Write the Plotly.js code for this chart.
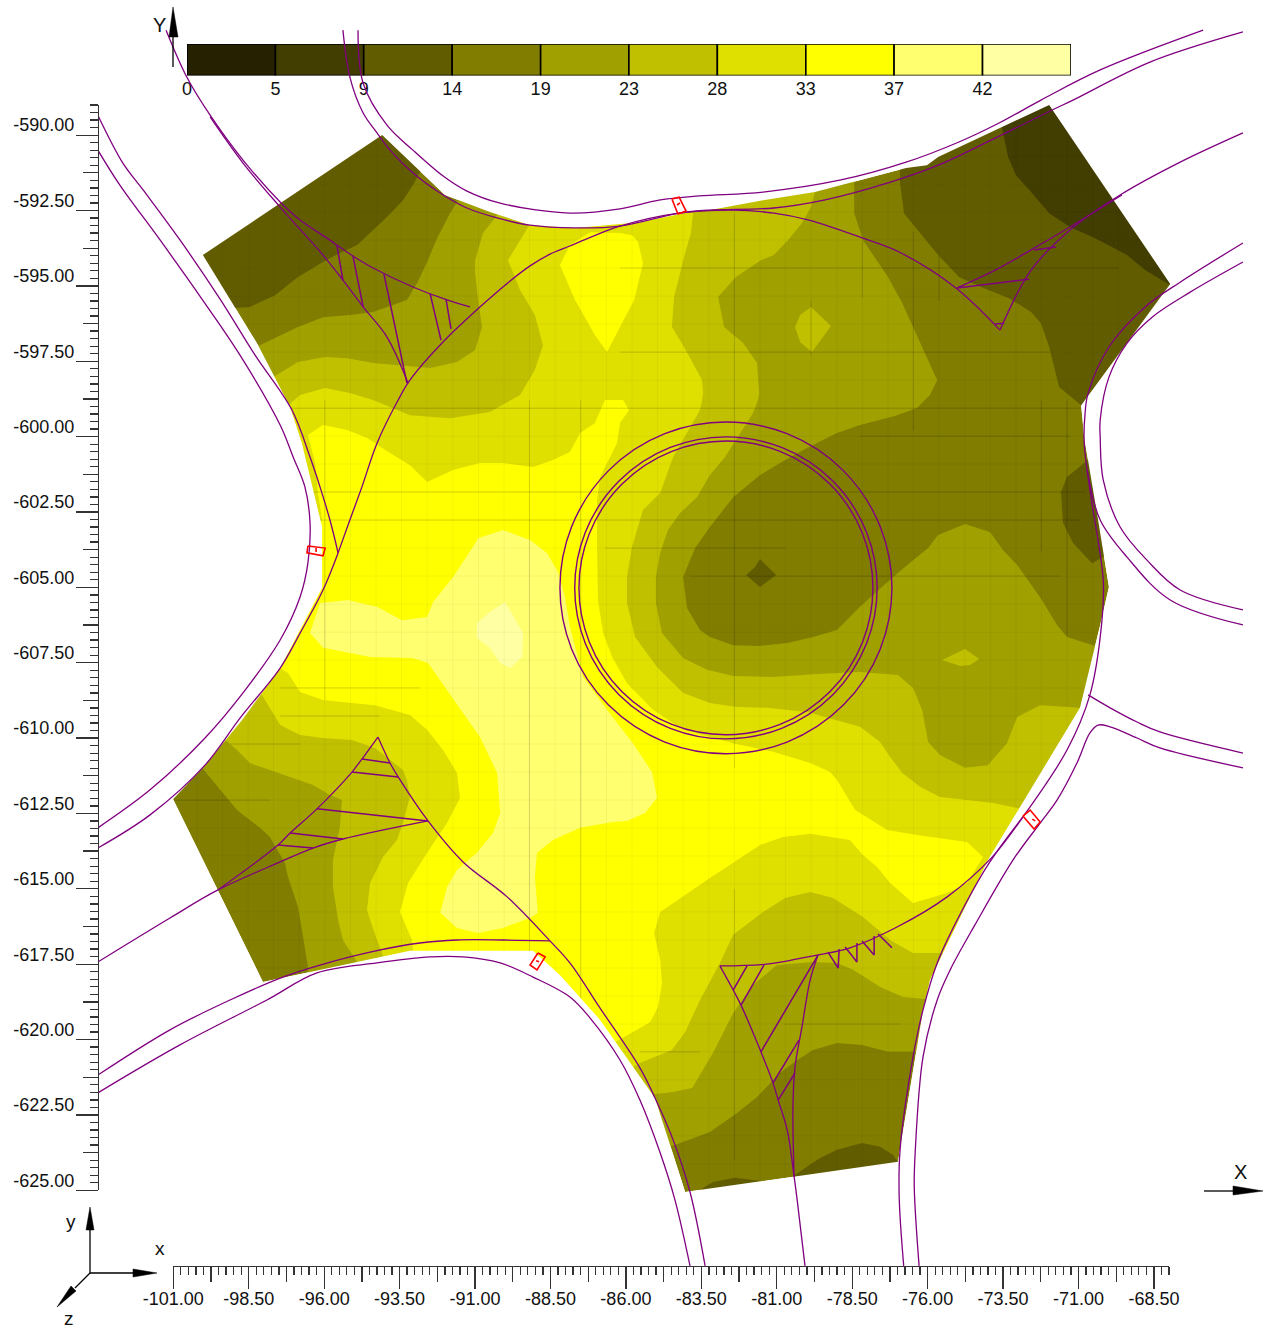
<!DOCTYPE html>
<html><head><meta charset="utf-8">
<script src="https://cdn.plot.ly/plotly-3.0.1.min.js"></script>
<style>html,body{margin:0;padding:0;background:#fff}#g{width:1268px;height:1331px}</style>
</head><body><div id="g"></div><script>
// ---------- colour scale ----------
const levels=[0,4.67,9.33,14,18.67,23.33,28,32.67,37.33,42,46.67];
const levelLabels=["0","5","9","14","19","23","28","33","37","42"];
const bandColors=["#262100","#423d00","#625c00","#807d00","#a0a000","#c0c000","#e0e000","#ffff00","#ffff70","#ffffa4"];
// ---------- measured domain outline ----------
const domain=[[-100.02,-593.98],[-94.08,-590],[-92,-591.99],[-90.51,-592.55],[-89.18,-592.99],[-87.69,-593.08],[-85.54,-592.89],[-83.88,-592.55],[-83.25,-592.49],[-81.46,-592.16],[-79.74,-591.89],[-76.72,-591.09],[-76.03,-591],[-75.66,-590.73],[-73.77,-589.83],[-71.98,-589],[-67.97,-594.94],[-70.92,-598.96],[-70.82,-600.02],[-70.63,-601.21],[-70.36,-602.77],[-70,-604.99],[-70.29,-606.25],[-70.96,-609],[-74.01,-614.05],[-75.93,-618.03],[-76.16,-619.02],[-76.36,-620.25],[-76.99,-624.06],[-84.04,-625.06],[-85.04,-621.94],[-86.86,-619.35],[-88.19,-617.86],[-89.08,-617.06],[-93.16,-617.06],[-98.03,-618.09],[-101.01,-612.02],[-100.02,-610.99],[-98.72,-609.4],[-97.46,-607.68],[-96.07,-605.02],[-96.07,-603],[-96.74,-600.22],[-97.13,-599.02],[-98.19,-596.97]];
const maskBox=[[-102,-588.7],[-102,-625.7],[-66.5,-625.7],[-66.5,-588.7],[-102,-588.7]];
// ---------- contour regions, z below 14 ----------
const low9_a=[[-92.83,-591.23],[-93.06,-591.66],[-93.39,-592.16],[-93.92,-592.72],[-94.38,-593.15],[-94.91,-593.65],[-95.48,-593.91],[-96.04,-594.21],[-96.87,-594.71],[-97.63,-595.31],[-98.46,-595.7],[-98.96,-595.74],[-100.12,-595.47],[-100.78,-593.81],[-94.15,-589.17],[-91.83,-590.17]];
const low9_b=[[-76.92,-590.5],[-76.92,-591.59],[-76.79,-592.59],[-76.13,-593.38],[-75.66,-593.98],[-74.97,-594.71],[-74.24,-595.04],[-73.31,-595.41],[-72.58,-595.87],[-72.25,-596.24],[-71.98,-597.03],[-71.65,-598.36],[-70.92,-598.96],[-70.46,-599.12],[-67.31,-594.81],[-71.62,-588.84],[-77.09,-589.83]];
const low9_c=[[-70.82,-600.88],[-71.39,-601.34],[-71.59,-601.84],[-71.52,-602.87],[-71.19,-603.53],[-70.56,-604.2],[-70.19,-604],[-69.63,-602.77],[-70.29,-600.45]];
const low9_d=[[-81.56,-604.06],[-81.03,-604.59],[-81.56,-604.99],[-82.02,-604.59],[-81.73,-604.33]];
const low9_e=[[-80.4,-624.49],[-79.57,-623.93],[-79.01,-623.66],[-78.18,-623.43],[-77.58,-623.56],[-77.15,-623.83],[-76.92,-624.16],[-76.75,-624.66],[-80.4,-625.32]];
const low9_f=[[-83.55,-624.99],[-83.12,-624.73],[-82.39,-624.59],[-81.23,-624.73],[-81.23,-625.16]];
const low5_a=[[-73.61,-589],[-73.54,-589.77],[-73.34,-590.73],[-73.08,-591.33],[-72.58,-591.89],[-71.98,-592.59],[-71.29,-593.05],[-70.46,-593.42],[-69.4,-593.98],[-68.8,-594.48],[-67.81,-595.07],[-67.31,-594.48],[-71.62,-588.84]];
// ---------- contour regions, z above 19 ----------
const above19=[[-78.44,-591.16],[-78.44,-591.59],[-78.44,-592.59],[-78.15,-593.48],[-77.32,-594.71],[-76.85,-595.57],[-76.49,-596.37],[-76.03,-597.36],[-75.69,-598.13],[-75.93,-598.62],[-76.36,-599.05],[-77.09,-599.32],[-78.25,-599.62],[-79.01,-599.88],[-80,-600.38],[-80.9,-600.88],[-81.56,-601.28],[-82.45,-602.01],[-83.22,-603],[-83.71,-603.7],[-84.11,-604.66],[-83.98,-605.69],[-83.55,-606.42],[-83.22,-606.65],[-82.45,-606.92],[-81.56,-606.95],[-80.66,-606.85],[-79.8,-606.65],[-79.01,-606.42],[-78.25,-605.65],[-77.19,-604.69],[-76.49,-604.1],[-75.99,-603.7],[-75.66,-603.27],[-74.77,-602.9],[-73.94,-603.17],[-73.51,-603.76],[-73.04,-604.26],[-72.22,-605.42],[-71.72,-606.25],[-71.39,-606.65],[-70.53,-606.92],[-69.3,-607.08],[-69.3,-620.68],[-76.49,-620.41],[-77.32,-620.41],[-78.18,-620.18],[-79.01,-620.12],[-79.8,-620.35],[-80.33,-620.68],[-80.9,-621.11],[-81.66,-621.91],[-82.32,-622.44],[-83.22,-623.07],[-84.38,-623.5],[-85.54,-623.83],[-93.49,-620.02],[-96.47,-618.69],[-96.54,-617.6],[-96.7,-616.6],[-96.87,-615.6],[-97.2,-614.61],[-97.3,-614.15],[-97.8,-613.28],[-98.13,-612.98],[-98.89,-612.39],[-99.45,-611.72],[-100.05,-610.99],[-101.44,-610.07],[-99.12,-597.46],[-98.19,-597],[-97.56,-596.7],[-96.87,-596.37],[-96.04,-596.04],[-95.15,-595.97],[-94.38,-595.87],[-93.72,-595.64],[-93.26,-595.47],[-92.92,-594.91],[-92.59,-594.21],[-92.26,-593.42],[-91.83,-592.59],[-91.6,-592.22],[-91.33,-591.16]];
const above23=[[-79.74,-591.33],[-79.74,-591.89],[-79.87,-592.39],[-80.17,-592.92],[-80.63,-593.48],[-81.1,-593.98],[-81.53,-594.15],[-82.36,-594.71],[-82.95,-595.37],[-82.75,-596.37],[-82.12,-596.9],[-81.66,-597.56],[-81.59,-598.56],[-81.63,-598.79],[-81.79,-599.22],[-82.22,-599.88],[-82.72,-600.68],[-83.22,-601.28],[-83.65,-602.01],[-84.21,-602.54],[-84.61,-603.1],[-84.87,-603.86],[-85.01,-604.66],[-85.01,-605.52],[-84.81,-606.52],[-84.11,-607.35],[-83.32,-607.74],[-82.45,-607.94],[-81.13,-607.98],[-79.67,-607.88],[-78.25,-607.81],[-76.99,-607.91],[-76.49,-608.34],[-76.19,-609.07],[-75.99,-610.13],[-75.6,-610.56],[-74.77,-610.99],[-74.01,-610.9],[-73.38,-610.17],[-73.04,-609.3],[-72.28,-608.91],[-70.96,-609],[-69.96,-609.14],[-72.94,-618.69],[-76.09,-618.66],[-76.82,-618.59],[-77.58,-618.26],[-78.48,-617.69],[-79.01,-617.46],[-79.8,-617.43],[-81,-617.53],[-81.79,-618.19],[-82.45,-619.12],[-83.12,-620.45],[-83.81,-621.61],[-84.44,-621.74],[-85.01,-621.81],[-85.87,-621.84],[-90.17,-618.36],[-93.49,-617.86],[-94.81,-617.86],[-94.91,-617.43],[-95.38,-616.7],[-95.54,-616.04],[-95.71,-614.94],[-95.71,-614.05],[-95.48,-612.95],[-95.41,-612.06],[-95.81,-611.89],[-96.37,-611.56],[-97.13,-611.29],[-98.46,-610.83],[-98.89,-610.4],[-99.35,-610],[-100.12,-609.4],[-98.79,-598.46],[-97.63,-597.99],[-96.87,-597.53],[-95.97,-597.36],[-95.24,-597.4],[-94.38,-597.56],[-93.49,-597.63],[-92.49,-597.73],[-91.6,-597.53],[-91,-597.13],[-90.77,-596.37],[-90.9,-595.47],[-91,-594.58],[-91,-594.15],[-90.74,-593.25],[-90.27,-592.65],[-90.01,-591.82]];
const above23_b=[[-79.87,-595.7],[-79.21,-596.33],[-79.84,-597.2],[-80.23,-596.87],[-80.4,-596.37],[-80.23,-595.97]];
const above23_c=[[-75.53,-607.41],[-74.77,-607.05],[-74.3,-607.38],[-74.6,-607.58],[-74.93,-607.61]];
const above28=[[-83.65,-591.99],[-83.78,-592.59],[-83.85,-593.25],[-84.08,-594.05],[-84.41,-595.37],[-84.48,-596.37],[-84.08,-597.03],[-83.48,-598.13],[-83.45,-598.56],[-83.48,-598.79],[-83.55,-599.12],[-83.98,-599.88],[-84.44,-600.68],[-84.87,-601.87],[-85.44,-602.44],[-85.8,-603.66],[-85.97,-604.66],[-85.97,-605.52],[-85.7,-606.65],[-84.97,-607.65],[-84.11,-608.51],[-83.22,-608.84],[-82.32,-608.97],[-81.33,-609],[-80,-609.14],[-78.25,-609.63],[-77.58,-610.13],[-77.25,-610.63],[-76.85,-611.16],[-76.26,-611.62],[-75.6,-611.96],[-74.7,-612.06],[-73.84,-612.16],[-73.04,-612.32],[-72.28,-612.55],[-73.94,-617.3],[-75.53,-617.13],[-76.49,-617.13],[-77.25,-616.7],[-78.15,-615.94],[-79.14,-615.31],[-79.9,-615.11],[-80.73,-615.31],[-81.46,-615.77],[-82.45,-616.53],[-82.89,-617.46],[-83.55,-618.69],[-84.04,-619.75],[-84.48,-620.35],[-85.54,-620.78],[-86.2,-621.18],[-90.17,-618.19],[-93.49,-617.86],[-93.99,-617.36],[-94.25,-616.7],[-94.48,-616.04],[-94.58,-615.7],[-94.48,-614.81],[-94.05,-613.95],[-93.59,-613.38],[-93.39,-612.82],[-93.16,-611.96],[-93.26,-611.39],[-93.39,-611.06],[-94.32,-610.33],[-95.08,-610.07],[-96.04,-610],[-96.8,-609.9],[-97.46,-609.57],[-98.06,-608.57],[-98.79,-608.08],[-98.13,-599.78],[-97.07,-598.86],[-96.8,-598.62],[-95.97,-598.39],[-95.15,-598.56],[-94.38,-598.79],[-93.82,-599.02],[-93.16,-599.29],[-91.83,-599.39],[-90.51,-599.19],[-89.51,-598.62],[-89.02,-597.79],[-88.75,-596.97],[-89.02,-595.97],[-89.51,-595.14],[-89.91,-594.15],[-89.18,-592.95],[-89.02,-592.16]];
const above33_a=[[-87.19,-593.22],[-86.2,-593.25],[-85.8,-593.32],[-85.6,-593.55],[-85.44,-594.25],[-85.73,-595.47],[-86.2,-596.37],[-86.63,-597.2],[-87.03,-596.63],[-87.69,-595.47],[-88.19,-594.31],[-87.86,-593.65]];
const above33=[[-96.54,-599.95],[-96.04,-599.62],[-95.24,-599.78],[-94.58,-600.05],[-93.82,-600.55],[-93.16,-600.95],[-92.59,-601.51],[-91.73,-601.11],[-90.84,-600.88],[-90.08,-600.88],[-89.08,-601.01],[-88.42,-600.78],[-87.86,-600.51],[-87.52,-599.88],[-87.03,-599.55],[-86.7,-598.79],[-86.1,-598.79],[-85.9,-599.12],[-86.2,-599.55],[-86.3,-600.22],[-86.86,-601.34],[-86.96,-602.11],[-86.96,-603.76],[-86.93,-605.42],[-86.76,-606.52],[-86.46,-607.31],[-85.97,-608.18],[-85.1,-609.07],[-84.11,-609.73],[-82.45,-610.17],[-81.13,-610.46],[-79.9,-610.83],[-79.24,-611.13],[-79.01,-611.39],[-78.41,-612.39],[-77.35,-613.05],[-76.36,-613.22],[-74.7,-613.45],[-74.17,-613.95],[-74.7,-614.81],[-75.36,-615.14],[-76.49,-615.47],[-77.25,-614.81],[-77.68,-614.28],[-78.15,-613.88],[-78.58,-613.38],[-79.9,-613.18],[-80.8,-613.28],[-81.56,-613.55],[-83.32,-614.71],[-84.87,-615.77],[-85.07,-616.47],[-84.87,-617.36],[-84.81,-618.13],[-84.94,-618.92],[-85.2,-619.42],[-85.54,-619.62],[-86.53,-620.18],[-90.17,-618.19],[-92.83,-617.86],[-93.02,-617.36],[-93.09,-616.7],[-93.49,-615.77],[-93.22,-614.81],[-92.59,-613.81],[-91.93,-612.82],[-91.5,-611.99],[-91.6,-611.16],[-92.06,-610.4],[-92.59,-609.73],[-93.16,-609.24],[-94.32,-608.91],[-95.08,-608.84],[-96.04,-608.74],[-96.8,-608.47],[-97.2,-607.84],[-97.63,-607.58],[-97.8,-605.42],[-96.07,-602.77],[-96.21,-601.87],[-96.3,-600.88]];
const above37=[[-90.9,-603.37],[-90.08,-603.1],[-89.18,-603.43],[-88.62,-603.86],[-88.25,-604.49],[-88.02,-605.32],[-87.86,-606.32],[-87.42,-607.98],[-86.63,-609.07],[-85.77,-610.17],[-85.14,-611.13],[-84.97,-611.99],[-85.37,-612.49],[-85.97,-612.75],[-86.43,-612.79],[-87.52,-612.98],[-88.42,-613.38],[-88.95,-613.81],[-89.02,-614.61],[-88.92,-615.8],[-89.18,-615.97],[-90.08,-616.3],[-90.9,-616.47],[-91.6,-616.3],[-92.16,-615.8],[-91.93,-614.94],[-91.6,-614.38],[-90.94,-613.81],[-90.41,-613.15],[-90.17,-612.49],[-90.27,-611.16],[-90.84,-609.97],[-91.4,-609.17],[-91.93,-608.41],[-92.56,-607.51],[-93.09,-607.35],[-94.48,-607.31],[-95.15,-607.18],[-96.04,-607.01],[-96.47,-606.52],[-96.14,-605.52],[-95.21,-605.42],[-94.25,-605.65],[-93.42,-606.09],[-92.59,-605.99],[-92.39,-605.49],[-91.73,-604.66],[-91.07,-603.66]];
const above42=[[-90.01,-605.49],[-89.41,-606.52],[-89.44,-607.31],[-89.84,-607.68],[-90.17,-607.51],[-90.51,-607.01],[-90.94,-606.68],[-90.94,-606.19],[-90.51,-605.82]];
// ---------- mesh line positions ----------
const gridX=[-100.22,-99.37,-98.52,-97.68,-96.83,-95.98,-95.13,-94.28,-93.44,-92.59,-91.74,-90.89,-90.04,-89.2,-88.35,-87.5,-86.65,-85.8,-84.96,-84.11,-83.26,-82.41,-81.56,-80.72,-79.87,-79.02,-78.17,-77.32,-76.48,-75.63,-74.78,-73.93,-73.08,-72.24,-71.39,-70.54,-69.69];
const gridY=[-590.7,-591.63,-592.55,-593.48,-594.41,-595.34,-596.27,-597.2,-598.13,-599.06,-599.99,-600.91,-601.84,-602.77,-603.7,-604.63,-605.56,-606.49,-607.41,-608.34,-609.27,-610.2,-611.13,-612.06,-612.99,-613.91,-614.84,-615.77,-616.7,-617.63,-618.56,-619.49,-620.41,-621.34,-622.27,-623.2,-624.13];
const meshRuns=[
 [[-97.13,-601.84],[-70.79,-601.84]],[[-96.14,-602.77],[-70.96,-602.77]],[[-97.13,-599.06],[-70.96,-599.06]],[[-86.2,-597.2],[-71.95,-597.2]],[[-86.2,-594.41],[-69.69,-594.41]],[[-83.88,-604.63],[-71.62,-604.63]],[[-78.25,-599.99],[-71.29,-599.99]],[[-80.73,-619.49],[-76.92,-619.49]],[[-85.54,-620.41],[-83.55,-620.41]],[[-86.7,-603.7],[-80.72,-603.7]],[[-99.12,-610.2],[-96.8,-610.2]],[[-101.1,-612.06],[-97.8,-612.06]],[[-97.46,-609.27],[-94.16,-609.27]],[[-97.46,-608.34],[-92.83,-608.34]],
 [[-95.98,-598.79],[-95.98,-608.74]],[[-89.2,-598.79],[-89.2,-618]],[[-87.5,-598.79],[-87.5,-619.5]],[[-82.41,-592.6],[-82.41,-611]],[[-82.41,-615],[-82.41,-624]],[[-79.87,-595.5],[-79.87,-597.3]],[[-78.17,-593.5],[-78.17,-595.4]],[[-76.48,-593.2],[-76.48,-599.8]],[[-75.63,-594],[-75.63,-595.5]],[[-72.24,-598.8],[-72.24,-603.8]],[[-71.39,-598.8],[-71.39,-606.6]]];
// ---------- road centre lines ----------
const roadA=[[-103.5,-589.34],[-102.67,-590.93],[-102,-591.82],[-100.78,-593.48],[-99.45,-595.44],[-98.29,-597.3],[-97.07,-599.12],[-96.47,-600.68],[-96.14,-601.67],[-95.81,-602.77],[-95.54,-603.86]];
const roadB=[[-103.5,-590.5],[-102.77,-591.66],[-101.44,-593.48],[-100.05,-595.44],[-98.79,-597.3],[-97.46,-599.62],[-97.03,-600.68],[-96.64,-601.67],[-96.47,-602.87],[-96.54,-604.2],[-96.8,-605.32],[-97.46,-606.75],[-98.62,-608.41],[-99.95,-610],[-101.77,-611.72],[-103.5,-612.98]];
const roadC=[[-95.54,-603.86],[-96.04,-605.09],[-96.8,-606.52],[-97.46,-607.68],[-98.79,-609.34],[-99.95,-610.9],[-101.77,-612.55],[-103.5,-613.65]];
const roadD=[[-95.54,-603.86],[-95.15,-602.77],[-94.75,-601.67],[-94.25,-600.22],[-93.55,-598.79],[-93.16,-598.13],[-92,-596.8],[-90.51,-595.41],[-89.84,-594.84],[-89.18,-594.34],[-88.52,-593.95],[-87.86,-593.68],[-86.2,-593.02],[-84.24,-592.59],[-82.42,-592.49],[-81.1,-592.59],[-79.94,-592.82],[-78.15,-593.42],[-76.95,-593.88],[-75.07,-595.07],[-73.61,-596.47]];
const roadE=[[-95.38,-586.52],[-95.15,-588.08],[-94.71,-589.27],[-94.25,-589.93],[-93.82,-590.5],[-93.06,-591.26],[-92.16,-591.92],[-91.27,-592.42],[-90.27,-592.75],[-89.18,-592.99],[-87.69,-593.08],[-86.2,-593.02],[-84.24,-592.59],[-83.25,-592.49],[-81.1,-592.42],[-79.44,-592.16],[-77.32,-591.59],[-75.66,-591],[-73.77,-590.1],[-71.88,-589.17],[-71.19,-588.84],[-68.64,-587.58],[-65.56,-586.58]];
const roadF=[[-94.88,-586.52],[-94.71,-588.28],[-93.92,-589.67],[-93.06,-590.5],[-92.06,-591.36],[-91.27,-591.86],[-90.17,-592.26],[-87.86,-592.59],[-86.2,-592.45],[-84.91,-592.16],[-83.58,-592.02],[-81.46,-591.89],[-78.88,-591.49],[-76.72,-590.9],[-74.97,-590.23],[-73.64,-589.6],[-72.25,-588.84],[-70.29,-587.84],[-66.88,-586.52]];
const roadG=[[-101.24,-586.52],[-100.55,-588.08],[-99.78,-589.34],[-98.69,-590.83],[-97.46,-592.22],[-96.8,-592.82],[-95.91,-593.42],[-95.05,-594.01],[-94.38,-594.41],[-93.06,-595.04],[-91.93,-595.47],[-91.17,-595.7]];
const roadH=[[-99.78,-589.4],[-98.69,-590.93],[-97.46,-592.39],[-96.04,-593.98],[-95.38,-594.81],[-94.71,-595.7],[-93.92,-596.7],[-93.22,-598.23]];
const roadI=[[-65.56,-589.93],[-67.64,-590.9],[-69.63,-591.99],[-71.29,-593.15],[-72.58,-594.48],[-73.61,-596.47]];
const roadJ=[[-75.03,-595.07],[-73.77,-594.48],[-72.58,-593.81],[-71.29,-593.05],[-69.57,-591.99]];
const roadK=[[-94.22,-609.97],[-94.75,-610.7],[-95.08,-611.13],[-96.24,-612.35],[-97.13,-613.15],[-97.53,-613.55],[-99.52,-615.04]];
const roadL=[[-94.22,-609.97],[-93.82,-610.83],[-93.55,-611.29],[-92.56,-612.75],[-91.4,-614.11],[-89.94,-615.27],[-88.52,-616.73],[-87.86,-617.46],[-86.86,-618.96],[-85.54,-620.94],[-85.04,-621.94],[-84.44,-623.33],[-83.88,-625.06],[-83.38,-627.51]];
const roadM=[[-92.56,-612.75],[-95.38,-613.35],[-96.37,-613.65],[-97.46,-614.11],[-99.52,-615.04],[-101.11,-615.97],[-103.5,-617.43]];
const roadN=[[-103.5,-621.18],[-101.11,-619.68],[-99.12,-618.69],[-97.37,-617.93],[-96.14,-617.53],[-94.48,-617.1],[-92.83,-616.8],[-91.6,-616.7],[-90.08,-616.7],[-88.52,-616.73]];
const roadO=[[-103.5,-621.77],[-100.78,-620.18],[-97.9,-618.69],[-96.24,-617.79],[-94.25,-617.46],[-92.49,-617.26],[-91.4,-617.26],[-90.17,-617.46],[-89.08,-617.93],[-87.86,-618.59],[-87.19,-619.29],[-86.2,-620.68],[-85.54,-622.01],[-84.87,-623.76],[-84.38,-625.32],[-83.88,-627.51]];
const roadP=[[-82.89,-617.56],[-81.33,-617.5],[-79.67,-617.2],[-78.58,-616.96],[-77.02,-616.27],[-75.36,-615.27],[-73.87,-613.95],[-72.85,-612.62],[-71.39,-610.4],[-70.63,-608.57],[-70.23,-606.09],[-70.19,-604.76],[-70.63,-601.77],[-70.82,-600.22],[-70.79,-599.22],[-70.69,-598.56],[-70,-597.03],[-68.8,-595.7],[-67.64,-594.88],[-65.56,-593.58]];
const roadQ=[[-65.56,-594.21],[-67.31,-595.21],[-68.57,-596.04],[-69.4,-596.9],[-70,-598.03],[-70.29,-599.45],[-70.29,-600.02],[-70.19,-601.44],[-69.63,-603],[-68.74,-604.1],[-67.64,-605.09],[-65.56,-605.75]];
const roadR=[[-70.72,-601.11],[-70.29,-602.77],[-69.4,-604],[-67.97,-605.42],[-65.56,-606.25]];
const roadS=[[-70.69,-608.57],[-69.96,-609],[-69.07,-609.47],[-68.31,-609.8],[-65.56,-610.5]];
const roadT=[[-65.56,-610.99],[-68.31,-610.33],[-69.07,-610],[-69.96,-609.63],[-70.36,-609.57],[-70.63,-609.83],[-71.06,-610.83],[-71.72,-612.06],[-72.28,-612.82],[-73.18,-614.05],[-74.44,-616.2],[-75.26,-617.69],[-75.69,-618.69],[-76.16,-620.58],[-76.42,-623.76],[-76.45,-624.89],[-76.29,-627.51]];
const roadU=[[-72.85,-612.62],[-74.01,-614.21],[-75.03,-616.04],[-75.69,-617.46],[-76.16,-619.02],[-76.49,-620.58],[-76.92,-623.66],[-76.95,-625.22],[-76.8,-627.51]];
const roadV=[[-82.89,-617.56],[-82.45,-618.36],[-82.19,-618.86],[-81.53,-620.41],[-81.13,-621.44],[-80.96,-622.01],[-80.66,-623],[-80.43,-624.56],[-80.33,-625.32],[-80.07,-627.51]];
const roadW=[[-79.64,-617.2],[-79.9,-618.03],[-80.17,-619.58],[-80.4,-620.91],[-80.47,-622.24],[-80.43,-624.56]];
// ---------- straight connector strokes ----------
const strokes=[
 [[-95.58,-593.65],[-95.38,-594.81]],[[-95.05,-594.01],[-94.71,-595.7]],[[-94.02,-594.61],[-93.26,-598.23]],[[-92.49,-595.27],[-92.13,-596.8]],[[-91.96,-595.47],[-91.8,-596.43]],
 [[-75.03,-595.07],[-72.65,-594.78]],[[-72.48,-593.81],[-71.75,-593.71]],[[-73.77,-596.27],[-73.47,-596.24]],
 [[-94.75,-610.7],[-93.82,-610.83]],[[-95.08,-611.13],[-93.55,-611.29]],[[-96.24,-612.35],[-92.56,-612.75]],[[-97.13,-613.15],[-95.38,-613.35]],[[-97.53,-613.55],[-96.37,-613.65]],
 [[-81.99,-617.56],[-82.45,-618.36]],[[-81.43,-617.53],[-82.19,-618.86]],[[-79.64,-617.2],[-81.53,-620.41]],[[-80.27,-620.02],[-81.13,-621.44]],[[-80.4,-621.11],[-80.96,-622.01]],
 [[-79.31,-617.1],[-78.97,-617.63],[-78.94,-617]],[[-78.74,-616.93],[-78.35,-617.43],[-78.35,-616.8]],[[-78.18,-616.73],[-77.78,-617.2],[-77.78,-616.57]],[[-77.65,-616.5],[-77.19,-616.96]]];
// ---------- inspection boxes ----------
const boxes=[
 [[-84.48,-592.12],[-84.24,-592.06],[-84.01,-592.52],[-84.28,-592.62],[-84.48,-592.12]],[[-84.31,-592.32],[-84.21,-592.25]],
 [[-96.54,-603.63],[-95.97,-603.7],[-96.04,-603.96],[-96.57,-603.86],[-96.54,-603.63]],[[-96.27,-603.7],[-96.27,-603.83]],
 [[-72.85,-612.59],[-72.61,-612.39],[-72.28,-612.79],[-72.48,-613.02],[-72.85,-612.59]],[[-72.54,-612.69],[-72.44,-612.75]],
 [[-88.92,-617.13],[-88.68,-617.26],[-88.95,-617.69],[-89.18,-617.53],[-88.92,-617.13]],[[-88.98,-617.39],[-88.88,-617.42]]];
// ---------- central rings ----------
const ringCentre=[-82.69,-605.02];
const ringRadii=[5.5,5.01,4.87];
// ---------- axis tick values ----------
const xTicks=[-101,-98.5,-96,-93.5,-91,-88.5,-86,-83.5,-81,-78.5,-76,-73.5,-71,-68.5];
const yTicks=[-590,-592.5,-595,-597.5,-600,-602.5,-605,-607.5,-610,-612.5,-615,-617.5,-620,-622.5,-625];

const W=1268,H=1331;
const fx=p=>p/W, fy=p=>1-p/H;
const split=(polys)=>{const x=[],y=[];polys.forEach((pl,i)=>{if(i){x.push(null);y.push(null)}pl.forEach(p=>{x.push(p[0]);y.push(p[1])})});return{x,y}};
const region=(polys,color)=>Object.assign({type:'scatter',mode:'lines',xaxis:'x2',yaxis:'y2',fill:'toself',fillcolor:color,line:{width:0},hoverinfo:'skip'},split(polys));
const stroke=(polys,color,w,shape)=>Object.assign({type:'scatter',mode:'lines',xaxis:'x2',yaxis:'y2',line:{color:color,width:w,shape:shape||'linear',smoothing:1},hoverinfo:'skip'},split(polys));

const traces=[];
// colour bar
traces.push({type:'bar',orientation:'h',xaxis:'x',yaxis:'y',y:levelLabels.map(()=>0),x:levelLabels.map((_,i)=>levels[i+1]-levels[i]),base:levels.slice(0,10),width:1,
  marker:{color:bandColors,line:{color:'#000',width:1.6}},hoverinfo:'skip'});
// contour map
traces.push(region([domain],bandColors[3]));
traces.push(region([low9_a,low9_b,low9_c,low9_d,low9_e,low9_f],bandColors[2]));
traces.push(region([low5_a],bandColors[1]));
traces.push(region([above19],bandColors[4]));
traces.push(region([above23],bandColors[5]));
traces.push(region([above23_b,above23_c],bandColors[5]));
traces.push(region([above28],bandColors[6]));
traces.push(region([above33,above33_a],bandColors[7]));
traces.push(region([above37],bandColors[8]));
traces.push(region([above42],bandColors[9]));
// mesh
const meshSegs=[];
gridX.forEach(v=>meshSegs.push([[v,-589],[v,-625.6]]));
gridY.forEach(v=>meshSegs.push([[-101.5,v],[-67,v]]));
traces.push(stroke(meshSegs,'rgba(0,0,0,0.045)',1));
traces.push(stroke(meshRuns,'rgba(0,0,0,0.14)',1));
// white mask outside the measured domain
traces.push(region([maskBox.concat(domain,[domain[0]],[maskBox[0]])],'#ffffff'));
// roads
[roadA,roadB,roadC,roadD,roadE,roadF,roadG,roadH,roadI,roadJ,roadK,roadL,roadM,roadN,roadO,roadP,roadQ,roadR,roadS,roadT,roadU,roadV,roadW]
  .forEach(r=>traces.push(stroke([r],'#800080',1.3,'spline')));
traces.push(stroke(strokes,'#800080',1.5));
traces.push(stroke(boxes,'#ff0000',1.6));
// carriers for the tick axes
traces.push({type:'scatter',mode:'none',x:[-101,-68],y:[-625,-589],xaxis:'x3',yaxis:'y3',hoverinfo:'skip'});
traces.push({type:'scatter',mode:'none',x:[-101,-68],y:[-625,-589],xaxis:'x4',yaxis:'y4',hoverinfo:'skip'});

const axisInk='#333';
const tickFont={family:'"Liberation Sans",Arial,sans-serif',size:18,color:'#111'};
const hidden={visible:false,showgrid:false,zeroline:false};
const xDom=[fx(173.3),fx(1169)], yDom=[fy(1190.3),fy(105)];
const layout={width:W,height:H,autosize:false,margin:{l:0,r:0,t:0,b:0,pad:0},paper_bgcolor:'#fff',plot_bgcolor:'rgba(0,0,0,0)',showlegend:false,barmode:'overlay',
 xaxis:{domain:[fx(187),fx(1071)],range:[0,46.67],anchor:'y',tickmode:'array',tickvals:levels.slice(0,10),ticktext:levelLabels,ticks:'',showgrid:false,zeroline:false,showline:false,tickfont:tickFont,tickangle:0},
 yaxis:Object.assign({domain:[fy(75.5),fy(44)],range:[-0.5,0.5],anchor:'x'},hidden),
 xaxis2:Object.assign({domain:[fx(98),1],range:[-103.495,-64.73],anchor:'y2'},hidden),
 yaxis2:Object.assign({domain:[0,1],range:[-629.67,-585.52],anchor:'x2'},hidden),
 xaxis3:{domain:xDom,range:[-101,-68],anchor:'free',position:fy(1266),side:'bottom',showline:true,linecolor:axisInk,linewidth:1.3,ticks:'outside',ticklen:22,tickwidth:1.3,tickcolor:axisInk,showgrid:false,zeroline:false,tickmode:'array',tickvals:xTicks,ticktext:xTicks.map(v=>v.toFixed(2)),tickfont:tickFont,tickangle:0,ticklabelstandoff:-6,
   minor:{ticks:'outside',ticklen:8,tickwidth:1.3,tickcolor:axisInk,tick0:-101,dtick:0.25,showgrid:false}},
 yaxis3:{domain:yDom,range:[-625,-589],anchor:'free',position:fx(98),side:'left',showline:true,linecolor:axisInk,linewidth:1.3,ticks:'outside',ticklen:22,tickwidth:1.3,tickcolor:axisInk,showgrid:false,zeroline:false,tickmode:'array',tickvals:yTicks,ticktext:yTicks.map(v=>v.toFixed(2)),tickfont:tickFont,ticklabelshift:-10,ticklabelstandoff:-2,
   minor:{ticks:'outside',ticklen:8,tickwidth:1.3,tickcolor:axisInk,tick0:-625,dtick:0.25,showgrid:false}},
 xaxis4:{domain:xDom,range:[-101,-68],anchor:'free',position:fy(1266),side:'bottom',ticks:'outside',ticklen:15,tickwidth:1.3,tickcolor:axisInk,tick0:-101,dtick:1.25,showticklabels:false,showgrid:false,zeroline:false,showline:false},
 yaxis4:{domain:yDom,range:[-625,-589],anchor:'free',position:fx(98),side:'left',ticks:'outside',ticklen:15,tickwidth:1.3,tickcolor:axisInk,tick0:-625,dtick:1.25,showticklabels:false,showgrid:false,zeroline:false,showline:false},
 shapes:[],annotations:[]};
// central rings, in data units
ringRadii.forEach(r=>layout.shapes.push({type:'circle',xref:'x2',yref:'y2',x0:ringCentre[0]-r,x1:ringCentre[0]+r,y0:ringCentre[1]-r,y1:ringCentre[1]+r,line:{color:'#800080',width:1.4},layer:'above'}));
// orientation arrows (page furniture)
const P=(a,b)=>fx(a)+' '+fy(b);
const paperLine=(a,b,c,d)=>({type:'line',xref:'paper',yref:'paper',x0:fx(a),y0:fy(b),x1:fx(c),y1:fy(d),line:{color:'#000',width:1.3}});
const paperHead=(pts)=>({type:'path',xref:'paper',yref:'paper',path:'M'+pts.map(p=>P(p[0],p[1])).join(' L')+' Z',fillcolor:'#000',line:{color:'#000',width:0.5}});
layout.shapes.push(paperLine(173,67,173,37),paperHead([[173,7],[169,37],[178,37]]));
layout.shapes.push(paperLine(1204,1191,1233,1191),paperHead([[1263,1191],[1233,1186],[1233,1195]]));
layout.shapes.push(paperLine(90,1273,90,1230),paperHead([[90,1207],[86,1230],[94,1230]]));
layout.shapes.push(paperLine(90,1273,133,1273),paperHead([[157,1273],[133,1269],[133,1277]]));
layout.shapes.push(paperLine(90,1273,75,1288),paperHead([[57,1307],[71,1286],[76,1291]]));
const label=(t,a,b,s)=>({text:t,xref:'paper',yref:'paper',x:fx(a),y:fy(b),xanchor:'center',yanchor:'middle',showarrow:false,font:{family:tickFont.family,size:s,color:'#111'}});
layout.annotations.push(label('Y',159,25,20),label('X',1240,1172,20),label('y',71,1221,19),label('x',160,1248,19),label('z',69,1318,19));

Plotly.newPlot('g',traces,layout,{staticPlot:true,displayModeBar:false});
</script></body></html>
